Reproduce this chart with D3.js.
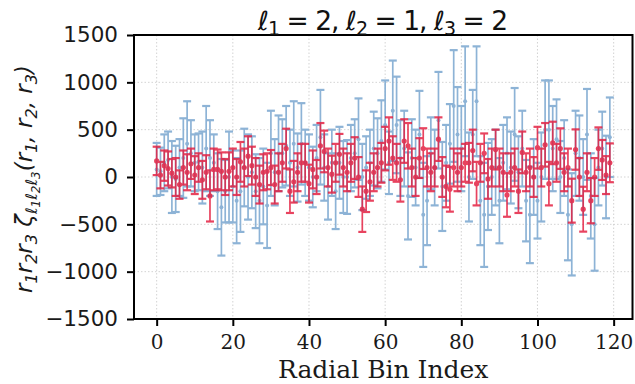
<!DOCTYPE html>
<html>
<head>
<meta charset="utf-8">
<script src="https://cdn.jsdelivr.net/npm/d3@7"></script>
<style>
  body { margin: 0; background: #fff; }
  svg { display: block; }
</style>
</head>
<body>
<svg id="chart" width="635" height="384"></svg>
<script>
// Radial bin index 0..119
const bins = d3.range(120);

// Blue series (centre, error)
const blueY = [
  80, 60, 150, 180, 0, -20, 100, 200, 350, 250,
  150, 160, 100, 300, 200, 150, -150, -320, -150, 0,
  -100, -250, -150, 100, 0, 50, -150, -250, -100, -300,
  250, 50, 250, 250, 330, 150, 350, 100, 350, 150,
  100, 0, 200, 420, 100, -100, 150, -150, 150, 0,
  0, 200, 250, 400, 0, 100, 150, 300, 250, 380,
  550, 150, 700, 550, 200, 300, -200, 200, 100, 450,
  -400, -250, 250, 100, 600, -100, 150, 350, 750, 450,
  300, 800, 0, 450, 800, -250, -400, -100, 0, 100,
  -250, 150, 250, 100, 450, 50, 300, -250, -400, 0,
  -250, 0, 500, 500, 300, 400, 0, 200, -400, -500,
  250, 200, 0, 450, -200, -500, 100, 300, 0, 420
];
const blueErr = [
  280, 250, 300, 300, 380, 350, 300, 420, 450, 350,
  300, 300, 380, 450, 400, 300, 400, 510, 330, 480,
  380, 450, 430, 410, 450, 380, 390, 450, 400, 450,
  450, 350, 400, 360, 420, 350, 450, 360, 430, 350,
  350, 320, 350, 500, 350, 350, 350, 400, 380, 380,
  390, 350, 360, 430, 350, 330, 350, 390, 370, 430,
  470, 330, 530, 510, 400, 400, 460, 410, 400, 460,
  550, 470, 380, 400, 510, 470, 400, 420, 590, 500,
  450, 580, 470, 470, 580, 470, 550, 460, 400, 400,
  450, 400, 380, 380, 490, 380, 400, 430, 510, 400,
  400, 470, 520, 520, 450, 420, 380, 400, 480, 540,
  450, 450, 400, 480, 450, 490, 400, 390, 436, 420
];

// Red series (centre, error)
const redY = [
  170, 20, 120, 90, 40, 0, -80, 100, 50, 140,
  20, 100, -30, 50, -200, 80, 80, 60, 0, 60,
  100, 0, 160, 100, 220, 120, 0, -80, 50, 60,
  100, -80, 50, 150, 300, -150, -50, 50, 150, 150,
  -70, 80, 0, 330, 270, 100, 30, 150, 240, 100,
  50, 150, 200, 0, -340, -150, -50, 50, 100, 150,
  300, 380, 200, 150, -30, 380, 330, 100, 0, 200,
  300, 100, 50, 100, 400, 0, -100, -130, 100, 50,
  100, 150, 150, 280, -70, 150, 250, -20, 100, 290,
  100, 50, -190, 50, 100, -150, 260, 50, 100, 0,
  310, 100, 340, -70, 360, 150, 300, 50, 100, -250,
  290, 0, -340, 50, -250, 0, 300, 180, 20, 150
];
const redErr = [
  150, 140, 160, 180, 150, 200, 150, 180, 190, 160,
  200, 150, 200, 180, 270, 220, 210, 200, 190, 200,
  200, 190, 210, 200, 210, 200, 200, 200, 190, 190,
  185, 200, 200, 200, 210, 230, 220, 200, 200, 200,
  200, 200, 180, 240, 220, 200, 195, 200, 215, 200,
  200, 200, 220, 210, 240, 220, 200, 200, 200, 210,
  230, 250, 230, 200, 230, 230, 240, 200, 200, 210,
  215, 200, 200, 200, 230, 210, 220, 236, 200, 200,
  200, 200, 210, 220, 230, 200, 210, 210, 200, 210,
  200, 200, 230, 200, 200, 230, 220, 200, 200, 210,
  220, 200, 230, 230, 224, 200, 214, 200, 200, 232,
  213, 200, 237, 200, 239, 200, 224, 211, 200, 205
];

const xTicks = [0, 20, 40, 60, 80, 100, 120];
const yTicks = [-1500, -1000, -500, 0, 500, 1000, 1500];

const svg = d3.select('#chart');
const mLeft = 134, mRight = 632.5, mTop = 35, mBottom = 319;

const x = d3.scaleLinear().domain([-5.95, 124.95]).range([mLeft, mRight]);
const y = d3.scaleLinear().domain([-1500, 1500]).range([mBottom, mTop]);

// Grid
const grid = svg.append('g').attr('stroke', '#c8c8c8').attr('stroke-width', 0.8)
  .attr('stroke-dasharray', '1.5,2');
grid.selectAll('line.gx').data(xTicks).join('line')
  .attr('x1', d => x(d)).attr('x2', d => x(d)).attr('y1', mTop).attr('y2', mBottom);
grid.selectAll('line.gy').data(yTicks).join('line')
  .attr('y1', d => y(d)).attr('y2', d => y(d)).attr('x1', mLeft).attr('x2', mRight);

// Error bar series
function drawSeries(vals, errs, color, opacity, r) {
  const g = svg.append('g').attr('opacity', opacity);
  const data = bins.map(i => ({ i, v: vals[i], e: errs[i] }));
  g.selectAll('line.bar').data(data).join('line')
    .attr('x1', d => x(d.i)).attr('x2', d => x(d.i))
    .attr('y1', d => y(d.v - d.e)).attr('y2', d => y(d.v + d.e))
    .attr('stroke', color).attr('stroke-width', 1.7);
  ['lo', 'hi'].forEach(k => {
    g.selectAll('line.cap' + k).data(data).join('line')
      .attr('x1', d => x(d.i) - 4).attr('x2', d => x(d.i) + 4)
      .attr('y1', d => y(k === 'lo' ? d.v - d.e : d.v + d.e))
      .attr('y2', d => y(k === 'lo' ? d.v - d.e : d.v + d.e))
      .attr('stroke', color).attr('stroke-width', 2.2);
  });
  g.selectAll('circle').data(data).join('circle')
    .attr('cx', d => x(d.i)).attr('cy', d => y(d.v)).attr('r', r)
    .attr('fill', color);
}

drawSeries(blueY, blueErr, '#8db3d6', 1, 2);
drawSeries(redY, redErr, '#e41a3c', 0.82, 2.6);

// Frame
svg.append('rect').attr('x', mLeft).attr('y', mTop)
  .attr('width', mRight - mLeft).attr('height', mBottom - mTop)
  .attr('fill', 'none').attr('stroke', '#000').attr('stroke-width', 2);

// Axes
const xAxis = svg.append('g').attr('transform', `translate(0,${mBottom})`)
  .call(d3.axisBottom(x).tickValues(xTicks).tickSize(7).tickPadding(9).tickFormat(d3.format('d')));
xAxis.select('.domain').remove();
xAxis.selectAll('line').attr('stroke-width', 2);
xAxis.selectAll('text').attr('font-family', 'DejaVu Serif').attr('font-size', 20).attr('fill', '#1a1a1a');

const yAxis = svg.append('g').attr('transform', `translate(${mLeft},0)`)
  .call(d3.axisLeft(y).tickValues(yTicks).tickSize(7).tickPadding(9)
    .tickFormat(d => d < 0 ? '\u2212' + Math.abs(d) : d));
yAxis.select('.domain').remove();
yAxis.selectAll('line').attr('stroke-width', 2);
yAxis.selectAll('text').attr('font-family', 'DejaVu Sans').attr('font-size', 21.5).attr('fill', '#1a1a1a');

// X label
svg.append('text').attr('x', (mLeft + mRight) / 2).attr('y', 377.5)
  .attr('text-anchor', 'middle').attr('font-family', 'DejaVu Serif').attr('font-size', 25)
  .attr('fill', '#1a1a1a').text('Radial Bin Index');

// Title
const title = svg.append('text').attr('x', 383).attr('y', 29.5)
  .attr('text-anchor', 'middle').attr('font-family', 'DejaVu Sans').attr('font-size', 26.5)
  .attr('fill', '#111').attr('textLength', 250).attr('lengthAdjust', 'spacing');
[['\u2113', '1', ' = 2, '], ['\u2113', '2', ' = 1, '], ['\u2113', '3', ' = 2']].forEach(([l, s, rest]) => {
  title.append('tspan').attr('font-style', 'italic').text(l);
  title.append('tspan').attr('font-size', 19).attr('dy', 5).text(s);
  title.append('tspan').attr('dy', -5).text(rest);
});

// Y label
const yl = svg.append('text').attr('transform', `translate(32,179) rotate(-90)`)
  .attr('text-anchor', 'middle').attr('font-family', 'DejaVu Sans').attr('font-size', 23)
  .attr('font-style', 'italic').attr('fill', '#1a1a1a')
  .attr('textLength', 228).attr('lengthAdjust', 'spacing');
const parts = [
  ['r', 0], ['1', 1], ['r', 0], ['2', 1], ['r', 0], ['3', 1], [' \u03B6', 0],
  ['\u2113', 1], ['1', 2], ['\u2113', 1], ['2', 2], ['\u2113', 1], ['3', 2],
  ['(r', 0], ['1', 1], [', r', 0], ['2', 1], [', r', 0], ['3', 1], [')', 0]
];
let level = 0;
const shifts = [0, 5, 8];
const sizes = [23, 16, 12];
parts.forEach(([t, lv]) => {
  const dy = shifts[lv] - shifts[level];
  const sp = yl.append('tspan').attr('font-size', sizes[lv]).attr('dy', dy).text(t);
  if (t === '(r' || t === ')' || t.startsWith(',')) sp.attr('font-style', null);
  level = lv;
});
</script>
</body>
</html>
